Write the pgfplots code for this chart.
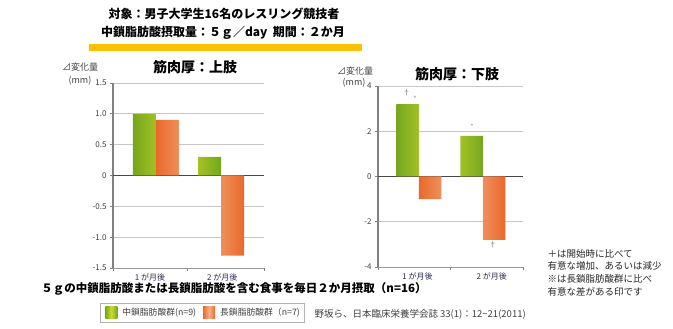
\documentclass[border=0pt]{standalone}
\usepackage{fontspec}
\setmainfont{Noto Sans CJK JP}
\usepackage{pgfplots}
\pgfplotsset{compat=1.18}
\definecolor{gD}{HTML}{76A61E}
\definecolor{gL}{HTML}{CADB2E}
\definecolor{oD}{HTML}{E9692A}
\definecolor{oL}{HTML}{F6B18A}
\definecolor{gold}{HTML}{FFC000}
\definecolor{txt}{HTML}{404040}
\definecolor{navy}{HTML}{2A2A50}
\pgfplotsset{
  common/.style={
    scale only axis,
    ybar=0pt,
    axis x line*=bottom, axis y line*=left,
    axis line style={-},
    x axis line style={draw=gray!80, line width=0.6pt},
    y axis line style={draw=gray, line width=1.4pt},
    tick align=outside,
    major tick length=3pt,
    minor tick length=3pt,
    major x tick style={draw=none},
    minor x tick style={draw=gray, line width=0.8pt},
    major y tick style={draw=gray, line width=0.8pt},
    ymajorgrids,
    grid style={draw=black!22, line width=0.7pt},
    extra y ticks={0}, extra y tick labels={},
    extra y tick style={grid style={draw=black!72, line width=0.8pt}, major tick length=0pt},
    /pgf/number format/assume math mode=true,
    tick label style={font=\fontsize{8}{9}\selectfont, text=txt},
    xticklabel style={text=navy, yshift=1pt},
    legend image code/.code={\path (0pt,0pt) (18pt,0pt); \path[#1, draw=none] (3pt,-6pt) rectangle (15pt,6pt);},
  },
  gbar/.style={draw=none, left color=gD, right color=gD, middle color=gL},
  obar/.style={draw=none, left color=oD, right color=oD, middle color=oL},
}
\begin{document}
\begin{tikzpicture}
\useasboundingbox (0pt,0pt) rectangle (673pt,329pt);
% header
\node[font=\fontsize{12}{14}\selectfont\bfseries] at (224pt,315pt) {対象：男子大学生16名のレスリング競技者};
\node[font=\fontsize{12}{14}\selectfont\bfseries] at (223pt,296pt) {中鎖脂肪酸摂取量：５ｇ／day\ \ 期間：２か月};
\fill[gold] (89pt,278pt) rectangle (362pt,285pt);

% left chart
\begin{axis}[common,
  at={(113pt,61pt)}, anchor=south west,
  width=151pt, height=185pt,
  bar width=23pt,
  xmin=-0.66, xmax=1.66, ymin=-1.5, ymax=1.5,
  ytick={-1.5,-1,-0.5,0,0.5,1,1.5},
  yticklabels={-1.5,-1.0,-0.5,0,0.5,1.0,1.5},
  xtick={-0.09,1.02}, xticklabels={1 が月後, 2 が月後},
  minor xtick={-0.66,0.49,1.66},
  legend style={at={(-0.086,-0.189)}, anchor=north west, draw=gray!60, line width=0.6pt,
     font=\fontsize{8.8}{11}\selectfont, text=txt, inner xsep=2pt, inner ysep=3pt},
  legend columns=2,
  legend cell align=left,
  /tikz/every even column/.append style={column sep=2pt},
]
\addplot[gbar] coordinates {(0,1.0) (1,0.3)};
\addplot[obar] coordinates {(0,0.9) (1,-1.3)};
\legend{中鎖脂肪酸群(n=9), 長鎖脂肪酸群（n=7)}
\end{axis}
\node[font=\fontsize{14}{16}\selectfont\bfseries] at (195pt,262pt) {筋肉厚：上肢};
\node[font=\fontsize{9}{10}\selectfont, text=txt] at (80pt,262pt) {⊿変化量};
\node[font=\fontsize{9}{10}\selectfont, text=txt] at (80pt,248pt) {(mm)};

% right chart
\begin{axis}[common,
  at={(378pt,62pt)}, anchor=south west,
  width=145pt, height=181pt,
  bar width=22.5pt,
  xmin=-0.64, xmax=1.63, ymin=-4, ymax=4,
  ytick={-4,-2,0,2,4},
  xtick={-0.02,1.14}, xticklabels={1 が月後, 2 が月後},
  minor xtick={-0.64,0.5,1.63},
]
\addplot[gbar] coordinates {(0,3.2) (1,1.8)};
\addplot[obar] coordinates {(0,-1.0) (1,-2.8)};
\node[text=gray, font=\fontsize{8}{9}\selectfont] at (axis cs:-0.19,3.72) {†};
\node[text=gray!80, font=\fontsize{7}{8}\selectfont] at (axis cs:-0.06,3.43) {*};
\node[text=gray!80, font=\fontsize{7}{8}\selectfont] at (axis cs:0.83,2.19) {*};
\node[text=gray, font=\fontsize{8}{9}\selectfont] at (axis cs:1.16,-3.03) {†};
\end{axis}
\node[font=\fontsize{14}{16}\selectfont\bfseries] at (457pt,255pt) {筋肉厚：下肢};
\node[font=\fontsize{9}{10}\selectfont, text=txt] at (355pt,258pt) {⊿変化量};
\node[font=\fontsize{9}{10}\selectfont, text=txt] at (354pt,246pt) {(mm)};

% footer
\node[font=\fontsize{11.5}{13}\selectfont\bfseries] at (234pt,40pt) {５ｇの中鎖脂肪酸または長鎖脂肪酸を含む食事を毎日２か月摂取（n=16）};
\node[anchor=west, font=\fontsize{9.5}{11}\selectfont, text=txt] at (311pt,15pt) {野坂ら、日本臨床栄養学会誌 33(1)：12\textasciitilde 21(2011)};
\begin{scope}[font=\fontsize{9.5}{11}\selectfont, text=black!85]
\node[anchor=west] at (544pt,75pt) {＋は開始時に比べて};
\node[anchor=west] at (544pt,63pt) {有意な増加、あるいは減少};
\node[anchor=west] at (544pt,50pt) {※は長鎖脂肪酸群に比べ};
\node[anchor=west] at (544pt,37pt) {有意な差がある印です};
\end{scope}
\end{tikzpicture}
\end{document}
